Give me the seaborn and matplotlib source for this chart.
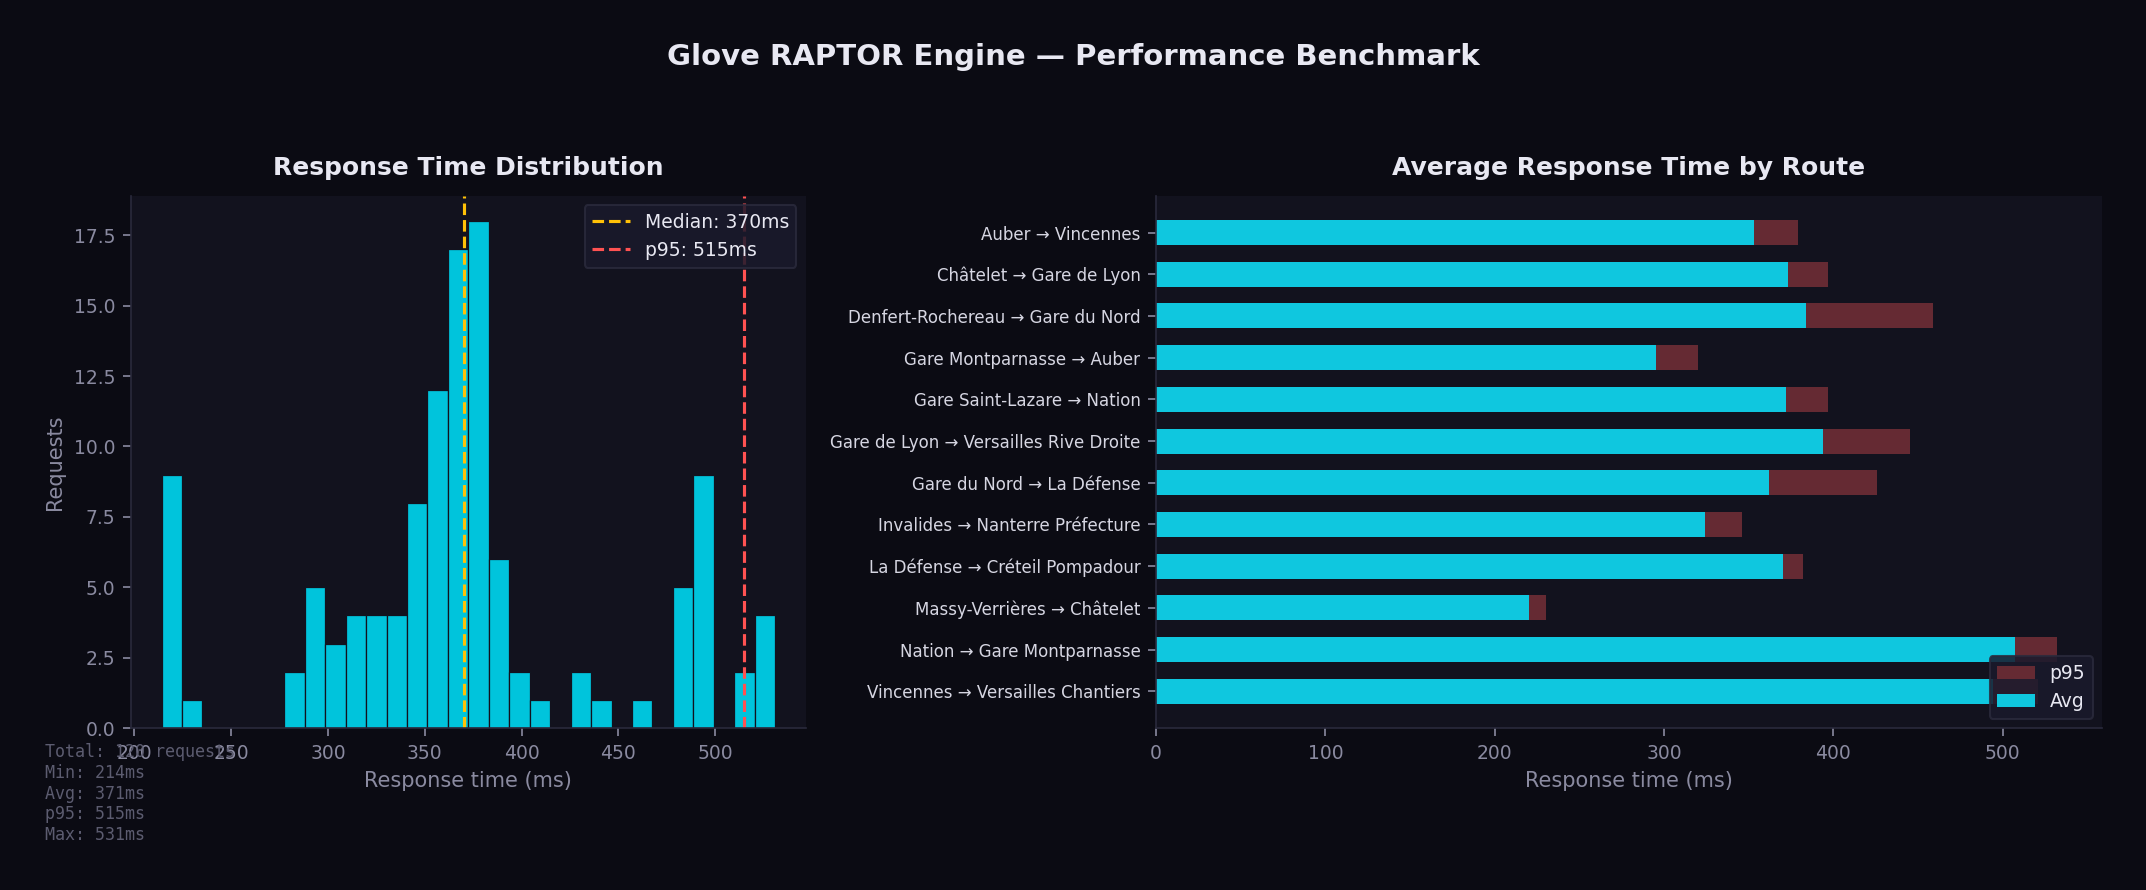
import matplotlib.pyplot as plt
import numpy as np
import pandas as pd
import seaborn as sns

# histogram of response times (30 equal bins between min and max)
BIN_LO, BIN_HI = 214, 531
bin_counts = [9, 1, 0, 0, 0, 0, 2, 5, 3, 4, 4, 4, 8, 12, 17, 18,
              6, 2, 1, 0, 2, 1, 0, 1, 0, 5, 9, 0, 2, 4]
stat_min, stat_avg, stat_median, stat_p95, stat_max = 214, 371, 370, 515, 531

routes = [
    "Auber → Vincennes",
    "Châtelet → Gare de Lyon",
    "Denfert-Rochereau → Gare du Nord",
    "Gare Montparnasse → Auber",
    "Gare Saint-Lazare → Nation",
    "Gare de Lyon → Versailles Rive Droite",
    "Gare du Nord → La Défense",
    "Invalides → Nanterre Préfecture",
    "La Défense → Créteil Pompadour",
    "Massy-Verrières → Châtelet",
    "Nation → Gare Montparnasse",
    "Vincennes → Versailles Chantiers",
]
route_avg = [353, 373, 384, 295, 372, 394, 362, 324, 370, 220, 507, 494]
route_p95 = [379, 397, 459, 320, 397, 445, 426, 346, 382, 230, 532, 521]

BG = "#0b0b13"
PANEL = "#12121e"
CYAN_HIST = "#00c4dc"
CYAN_BAR = "#0fc7df"
P95_BAR = "#652a33"
GOLD = "#ffc107"
RED = "#ff5252"
TEXT = "#e8e8f2"
LABEL = "#d6d6e2"
MUTED = "#8a8aa0"
SPINE = "#2a2a3c"
STATS = "#5c5c70"

sns.set_style("dark", rc={
    "figure.facecolor": BG,
    "axes.facecolor": PANEL,
    "axes.edgecolor": SPINE,
    "axes.grid": False,
    "xtick.color": MUTED,
    "ytick.color": MUTED,
    "axes.labelcolor": MUTED,
    "text.color": TEXT,
    "xtick.bottom": True,
    "ytick.left": True,
})
plt.rcParams["font.family"] = ["DejaVu Sans"]

fig = plt.figure(figsize=(2146 / 150, 890 / 150), dpi=150)
ax1 = fig.add_axes([0.061, 0.182, 0.3145, 0.598])
ax2 = fig.add_axes([0.5387, 0.182, 0.4408, 0.598])

# --- left: distribution
edges = np.linspace(BIN_LO, BIN_HI, len(bin_counts) + 1)
hist_df = pd.DataFrame({"t": (edges[:-1] + edges[1:]) / 2, "n": bin_counts})
sns.histplot(data=hist_df, x="t", weights="n", bins=len(bin_counts),
             binrange=(BIN_LO, BIN_HI), ax=ax1,
             color=CYAN_HIST, alpha=1, edgecolor=PANEL, linewidth=0.6)
ax1.axvline(stat_median, color=GOLD, ls="--", lw=1.5, label=f"Median: {stat_median}ms")
ax1.axvline(stat_p95, color=RED, ls="--", lw=1.5, label=f"p95: {stat_p95}ms")
ax1.set_title("Response Time Distribution", fontsize=12, fontweight="bold",
              color=TEXT, pad=10)
ax1.set_xlabel("Response time (ms)", fontsize=10)
ax1.set_ylabel("Requests", fontsize=10)
ax1.tick_params(labelsize=9, length=4, color=MUTED)
ax1.legend(loc="upper right", fontsize=9, facecolor="#1a1a2c",
           edgecolor=SPINE, framealpha=0.85, labelcolor=TEXT)
stats = (f"Total: {sum(bin_counts)} requests\nMin: {stat_min}ms\nAvg: {stat_avg}ms\n"
         f"p95: {stat_p95}ms\nMax: {stat_max}ms")
ax1.text(-0.128, -0.028, stats, transform=ax1.transAxes, va="top", ha="left",
         family="DejaVu Sans Mono", fontsize=8, color=STATS)

# --- right: per-route averages
df = pd.DataFrame({"route": routes, "avg": route_avg, "p95": route_p95})
sns.barplot(data=df, y="route", x="p95", color=P95_BAR, width=0.6,
            saturation=1, label="p95", ax=ax2, edgecolor="none", linewidth=0)
sns.barplot(data=df, y="route", x="avg", color=CYAN_BAR, width=0.6,
            saturation=1, label="Avg", ax=ax2, edgecolor="none", linewidth=0)
pad = 0.05 * (len(routes) - 1 + 0.6)
ax2.set_ylim(len(routes) - 1 + 0.3 + pad, -0.3 - pad)
ax2.set_title("Average Response Time by Route", fontsize=12, fontweight="bold",
              color=TEXT, pad=10)
ax2.set_xlabel("Response time (ms)", fontsize=10)
ax2.set_ylabel("")
ax2.tick_params(axis="x", labelsize=9, length=4, color=MUTED)
ax2.tick_params(axis="y", labelsize=8, length=4, color=MUTED, labelcolor=LABEL)
ax2.legend(loc="lower right", fontsize=9, facecolor="#1a1a2c",
           edgecolor=SPINE, framealpha=0.85, labelcolor=TEXT)

for ax in (ax1, ax2):
    ax.spines["top"].set_visible(False)
    ax.spines["right"].set_visible(False)
    ax.spines["left"].set_color(SPINE)
    ax.spines["bottom"].set_color(SPINE)

fig.suptitle("Glove RAPTOR Engine — Performance Benchmark", fontsize=14,
             fontweight="bold", color=TEXT, y=0.936, va="center")

fig.savefig("out.png", dpi=150, facecolor=BG)
plt.close(fig)
